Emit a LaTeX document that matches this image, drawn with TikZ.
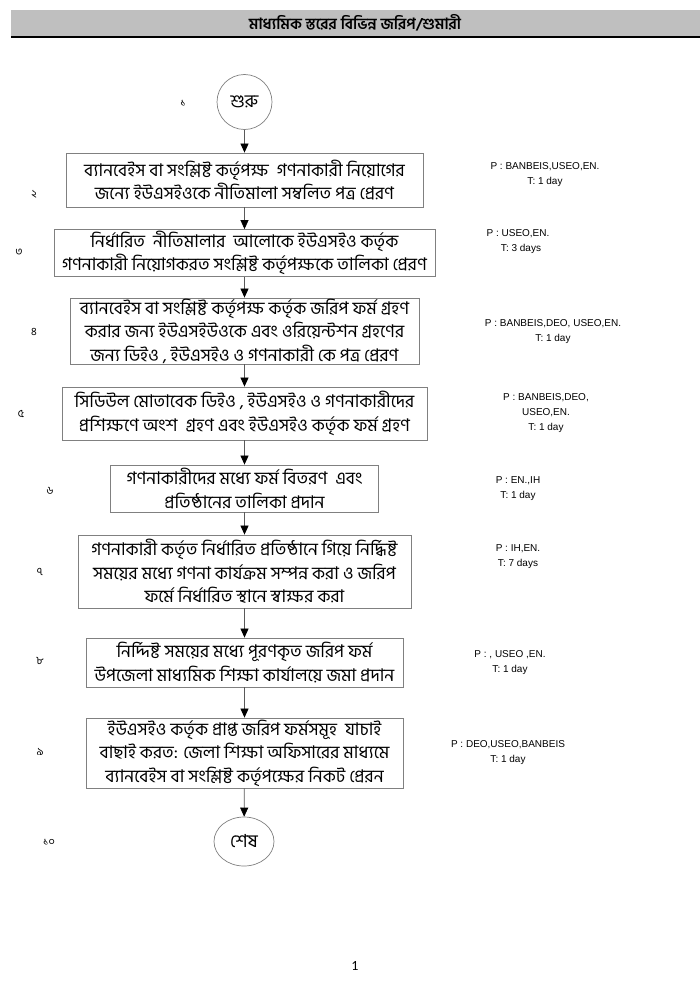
\documentclass[tikz,border=0pt]{standalone}
\usepackage{fontspec}
\setmainfont{Liberation Sans}
\newfontfamily\bnfont[Script=Bengali]{Hind Siliguri}
\newfontfamily\pagefont{Carlito}
\usetikzlibrary{arrows.meta,shapes.geometric}

\begin{document}
\begin{tikzpicture}[x=1pt,y=-1pt,>={Triangle[length=9pt,width=8pt,black]},
    stepbox/.style={draw=black!50,line width=0.8pt,align=center,inner sep=0pt,
        font=\bnfont\fontsize{17.5}{23.5}\selectfont},
    plabel/.style={align=center,inner sep=0pt,font=\fontsize{10}{15}\selectfont},
    numlabel/.style={inner sep=0pt,font=\bnfont\fontsize{11}{13}\selectfont},
    flow/.style={->,draw=black!65,line width=0.7pt}]
            % page size
            \useasboundingbox (0,0) rectangle (700,998);

            % heading band
            \fill[black!25] (11,10) rectangle (700,37);
            \draw[line width=1.2pt] (11,37) -- (700,37);
            \node[font=\bnfont\bfseries\fontsize{15.5}{17}\selectfont] (TITLE) at (355,23) {মাধ্যমিক স্তরের বিভিন্ন জরিপ/শুমারী};

            % start
            \node[draw=black!50,line width=0.7pt,circle,minimum size=55pt,inner sep=0pt,font=\bnfont\fontsize{18}{20}\selectfont] (S1) at (244.5,102) {শুরু};

            % steps
            \node[stepbox,minimum width=357pt,minimum height=54pt] (S2) at (244.5,180) {ব্যানবেইস বা সংশ্লিষ্ট কর্তৃপক্ষ\ \ গণনাকারী নিয়োগের\\জন্যে ইউএসইওকে নীতিমালা সম্বলিত পত্র প্রেরণ};
            \node[stepbox,minimum width=381pt,minimum height=47pt] (S3) at (244.5,253) {নির্ধারিত\ \ নীতিমালার\ \ আলোকে ইউএসইও কর্তৃক\\গণনাকারী নিয়োগকরত সংশ্লিষ্ট কর্তৃপক্ষকে তালিকা প্রেরণ};
            \node[stepbox,minimum width=349pt,minimum height=66pt] (S4) at (244.5,331) {ব্যানবেইস বা সংশ্লিষ্ট কর্তৃপক্ষ কর্তৃক জরিপ ফর্ম গ্রহণ\\করার জন্য ইউএসইউওকে এবং ওরিয়েন্টশন গ্রহণের\\জন্য ডিইও , ইউএসইও ও গণনাকারী কে পত্র প্রেরণ};
            \node[stepbox,minimum width=365pt,minimum height=53pt] (S5) at (244.5,413.5) {সিডিউল মোতাবেক ডিইও , ইউএসইও ও গণনাকারীদের\\প্রশিক্ষণে অংশ\ \ গ্রহণ এবং ইউএসইও কর্তৃক ফর্ম গ্রহণ};
            \node[stepbox,minimum width=268pt,minimum height=47pt] (S6) at (244.5,488.5) {গণনাকারীদের মধ্যে ফর্ম বিতরণ\ \ এবং\\প্রতিষ্ঠানের তালিকা প্রদান};
            \node[stepbox,minimum width=333pt,minimum height=73pt] (S7) at (244.5,571.5) {গণনাকারী কর্তৃত নির্ধারিত প্রতিষ্ঠানে গিয়ে নির্দ্ধিষ্ট\\সময়ের মধ্যে গণনা কার্যক্রম সম্পন্ন করা ও জরিপ\\ফর্মে নির্ধারিত স্থানে স্বাক্ষর করা};
            \node[stepbox,minimum width=317pt,minimum height=49pt] (S8) at (244.5,662.5) {নির্দ্দিষ্ট সময়ের মধ্যে পূরণকৃত জরিপ ফর্ম\\উপজেলা মাধ্যমিক শিক্ষা কার্যালয়ে জমা প্রদান};
            \node[stepbox,minimum width=317pt,minimum height=70pt] (S9) at (244.5,753) {ইউএসইও কর্তৃক প্রাপ্ত জরিপ ফর্মসমূহ\ \ যাচাই\\বাছাই করত: জেলা শিক্ষা অফিসারের মাধ্যমে\\ব্যানবেইস বা সংশ্লিষ্ট কর্তৃপক্ষের নিকট প্রেরন};

            % end
            \node[draw=black!50,line width=0.7pt,ellipse,minimum width=60pt,minimum height=49pt,inner sep=0pt,font=\bnfont\fontsize{18}{20}\selectfont] (S10) at (244,841.5) {শেষ};

            % arrows between the steps
            \draw[flow] (S1) -- (S2);
            \draw[flow] (S2) -- (S3);
            \draw[flow] (S3) -- (S4);
            \draw[flow] (S4) -- (S5);
            \draw[flow] (S5) -- (S6);
            \draw[flow] (S6) -- (S7);
            \draw[flow] (S7) -- (S8);
            \draw[flow] (S8) -- (S9);
            \draw[flow] (S9) -- (S10);

            % step numbers
            \node[numlabel] (N1) at (183,103) {১};
            \node[numlabel] (N2) at (34,194) {২};
            \node[numlabel] (N3) at (19,252) {৩};
            \node[numlabel] (N4) at (34,332) {৪};
            \node[numlabel] (N5) at (21,414) {৫};
            \node[numlabel] (N6) at (50,491) {৬};
            \node[numlabel] (N7) at (40,572) {৭};
            \node[numlabel] (N8) at (40,661) {৮};
            \node[numlabel] (N9) at (40,752) {৯};
            \node[numlabel] (N10) at (49,842) {১০};

            % persons and time
            \node[plabel] (P2) at (545,175) {P : BANBEIS,USEO,EN.\\T: 1 day};
            \node[plabel] (P3) at (518,242) {P : USEO,EN.\\\hspace*{6pt}T: 3 days};
            \node[plabel] (P4) at (553,332) {P : BANBEIS,DEO, USEO,EN.\\T: 1 day};
            \node[plabel] (P5) at (546,413) {P : BANBEIS,DEO,\\USEO,EN.\\T: 1 day};
            \node[plabel] (P6) at (518,488.5) {P : EN.,IH\\T: 1 day};
            \node[plabel] (P7) at (518,557) {P : IH,EN.\\T: 7 days};
            \node[plabel] (P8) at (510,662.5) {P : , USEO ,EN.\\T: 1 day};
            \node[plabel] (P9) at (508,752.5) {P : DEO,USEO,BANBEIS\\T: 1 day};

            % page number
            \node[font=\pagefont\fontsize{14}{16}\selectfont] (PAGE) at (355,966) {1};
\end{tikzpicture}
\end{document}
